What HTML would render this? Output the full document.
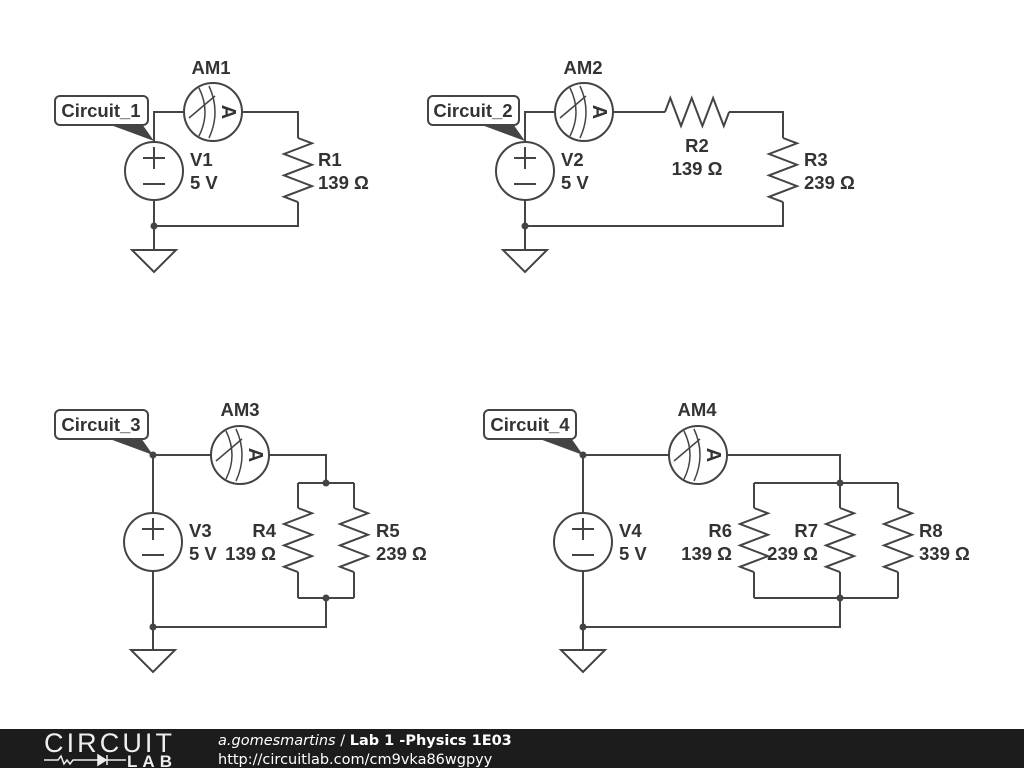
<!DOCTYPE html>
<html><head><meta charset="utf-8"><style>
html,body{margin:0;padding:0;background:#fff;width:1024px;height:768px;overflow:hidden}
svg{display:block}
text{font-family:"Liberation Sans","DejaVu Sans",sans-serif;font-weight:bold;font-size:18.5px;fill:#333}
.w{stroke:#444;stroke-width:2;fill:none}
</style></head><body>
<svg width="1024" height="768" viewBox="0 0 1024 768">
<defs>
<g id="am">
<circle cx="0" cy="0" r="29" fill="#fff" stroke="#444" stroke-width="2"/>
<path d="M-14,-24 Q-2,0 -14,24 M-4,-26 Q8,0 -4,26 M-24,6 L2,-16" stroke="#444" stroke-width="1.5" fill="none"/>
<text x="0" y="0" transform="translate(16,0) rotate(90)" text-anchor="middle" dy="7" style="font-size:20px">A</text>
</g>
<g id="vs">
<circle cx="0" cy="0" r="29" fill="#fff" stroke="#444" stroke-width="2"/>
<path d="M-11,-13 h22 M0,-24 v22 M-11,13 h22" stroke="#444" stroke-width="2"/>
</g>
<g id="gnd"><path d="M-22,0 H22 L0,22 Z" fill="#fff" stroke="#444" stroke-width="2"/></g>
<path id="rv" d="M0,0 l14,5.3 l-28,10.7 l28,10.7 l-28,10.7 l28,10.7 l-28,10.7 l14,5.3" class="w"/>
<path id="rh" d="M0,0 l5.3,-14 l10.7,28 l10.7,-28 l10.7,28 l10.7,-28 l10.7,28 l5.3,-14" class="w"/>
</defs>

<!-- Circuit 1 -->
<path class="w" d="M154,142 V112 H298 V138 M298,202 V226 H154 V250 M154,200 V226"/>
<use href="#rv" x="298" y="138"/>
<use href="#am" x="213" y="112"/>
<use href="#vs" x="154" y="171"/>
<circle cx="154" cy="226" r="3.5" fill="#444"/>
<use href="#gnd" x="154" y="250"/>
<path d="M108,124 L142,124 L154,141 Z" fill="#444"/>
<rect x="55" y="96" width="93" height="29" rx="5" fill="#fff" stroke="#444" stroke-width="2"/>
<text x="101" y="117" text-anchor="middle">Circuit_1</text>
<text x="211" y="74" text-anchor="middle">AM1</text>
<text x="190" y="166">V1</text><text x="190" y="189">5 V</text>
<text x="318" y="166">R1</text><text x="318" y="189">139 Ω</text>

<!-- Circuit 2 -->
<path class="w" d="M525,142 V112 H665 M729,112 H783 V138 M783,202 V226 H525 V250 M525,200 V226"/>
<use href="#rh" x="665" y="112"/>
<use href="#rv" x="783" y="138"/>
<use href="#am" x="584" y="112"/>
<use href="#vs" x="525" y="171"/>
<circle cx="525" cy="226" r="3.5" fill="#444"/>
<use href="#gnd" x="525" y="250"/>
<path d="M479,124 L513,124 L525,141 Z" fill="#444"/>
<rect x="428" y="96" width="91" height="29" rx="5" fill="#fff" stroke="#444" stroke-width="2"/>
<text x="473" y="117" text-anchor="middle">Circuit_2</text>
<text x="583" y="74" text-anchor="middle">AM2</text>
<text x="561" y="166">V2</text><text x="561" y="189">5 V</text>
<text x="697" y="152" text-anchor="middle">R2</text><text x="697" y="175" text-anchor="middle">139 Ω</text>
<text x="804" y="166">R3</text><text x="804" y="189">239 Ω</text>

<!-- Circuit 3 -->
<path class="w" d="M153,455 H326 V483 M298,483 H354 M298,483 V508 M354,483 V508 M298,572 V598 M354,572 V598 M298,598 H354 M326,598 V627 H153 M153,455 V513 M153,571 V650"/>
<use href="#rv" x="298" y="508"/>
<use href="#rv" x="354" y="508"/>
<use href="#am" x="240" y="455"/>
<use href="#vs" x="153" y="542"/>
<circle cx="153" cy="455" r="3.5" fill="#444"/>
<circle cx="326" cy="483" r="3.5" fill="#444"/>
<circle cx="326" cy="598" r="3.5" fill="#444"/>
<circle cx="153" cy="627" r="3.5" fill="#444"/>
<use href="#gnd" x="153" y="650"/>
<path d="M107,438 L141,438 L153,455 Z" fill="#444"/>
<rect x="55" y="410" width="93" height="29" rx="5" fill="#fff" stroke="#444" stroke-width="2"/>
<text x="101" y="431" text-anchor="middle">Circuit_3</text>
<text x="240" y="416" text-anchor="middle">AM3</text>
<text x="189" y="537">V3</text><text x="189" y="560">5 V</text>
<text x="276" y="537" text-anchor="end">R4</text><text x="276" y="560" text-anchor="end">139 Ω</text>
<text x="376" y="537">R5</text><text x="376" y="560">239 Ω</text>

<!-- Circuit 4 -->
<path class="w" d="M583,455 H840 V483 M754,483 H898 M754,483 V508 M840,483 V508 M898,483 V508 M754,572 V598 M840,572 V598 M898,572 V598 M754,598 H898 M840,598 V627 H583 M583,455 V513 M583,571 V650"/>
<use href="#rv" x="754" y="508"/>
<use href="#rv" x="840" y="508"/>
<use href="#rv" x="898" y="508"/>
<use href="#am" x="698" y="455"/>
<use href="#vs" x="583" y="542"/>
<circle cx="583" cy="455" r="3.5" fill="#444"/>
<circle cx="840" cy="483" r="3.5" fill="#444"/>
<circle cx="840" cy="598" r="3.5" fill="#444"/>
<circle cx="583" cy="627" r="3.5" fill="#444"/>
<use href="#gnd" x="583" y="650"/>
<path d="M537,438 L571,438 L583,455 Z" fill="#444"/>
<rect x="484" y="410" width="92" height="29" rx="5" fill="#fff" stroke="#444" stroke-width="2"/>
<text x="530" y="431" text-anchor="middle">Circuit_4</text>
<text x="697" y="416" text-anchor="middle">AM4</text>
<text x="619" y="537">V4</text><text x="619" y="560">5 V</text>
<text x="732" y="537" text-anchor="end">R6</text><text x="732" y="560" text-anchor="end">139 Ω</text>
<text x="818" y="537" text-anchor="end">R7</text><text x="818" y="560" text-anchor="end">239 Ω</text>
<text x="919" y="537">R8</text><text x="919" y="560">339 Ω</text>

<!-- footer -->
<rect x="0" y="729" width="1024" height="39" fill="#1c1c1c"/>
<text x="44" y="752" textLength="128" style="font-weight:normal;font-size:27px;fill:#eee">CIRCUIT</text>
<path d="M44,760 H58 l3,-4 3,8 3,-4 3,4 3,-4 H98" stroke="#eee" stroke-width="1.5" fill="none"/>
<path d="M98,755 L106,760 L98,765 Z M107,755 V765" fill="#eee" stroke="#eee" stroke-width="1.5"/>
<path d="M107,760 H126" stroke="#eee" stroke-width="1.5"/>
<text x="127" y="767" textLength="45" style="font-size:17px;fill:#eee">LAB</text>
<text x="218" y="745" style="font-family:'DejaVu Sans',sans-serif;font-size:14.5px;fill:#fff;font-weight:normal"><tspan font-style="italic">a.gomesmartins</tspan> / <tspan font-weight="bold">Lab 1 -Physics 1E03</tspan></text>
<text x="218" y="764" style="font-family:'DejaVu Sans',sans-serif;font-size:14.5px;fill:#fff;font-weight:normal">http://circuitlab.com/cm9vka86wgpyy</text>
</svg>
</body></html>
